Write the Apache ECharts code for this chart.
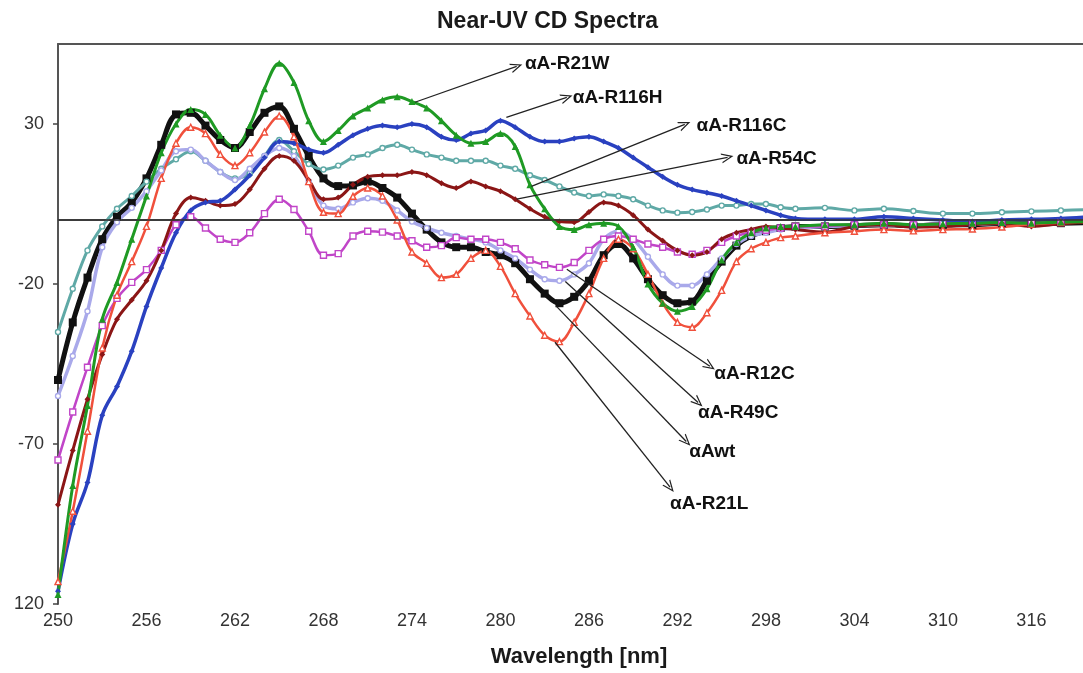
<!DOCTYPE html>
<html>
<head>
<meta charset="utf-8">
<title>Near-UV CD Spectra</title>
<script src="https://cdn.jsdelivr.net/npm/echarts@6/dist/echarts.min.js"></script>
<style>
  html, body { margin: 0; padding: 0; background: #fff; }
  #chart { width: 1083px; height: 673px; }
</style>
</head>
<body>
<div id="chart"></div>
<script>
// wavelength (nm): 1 nm steps to 300, then 2 nm steps
const wavelength = [250,251,252,253,254,255,256,257,258,259,260,261,262,263,264,265,266,267,268,269,
  270,271,272,273,274,275,276,277,278,279,280,281,282,283,284,285,286,287,288,289,
  290,291,292,293,294,295,296,297,298,299,300,302,304,306,308,310,312,314,316,318,320];

const awt = [-50,-32,-18,-6,1,5.5,13,23.5,33,33.5,29.5,25,22.5,27.5,33.5,35.5,28.5,20,13,10.6,
  10.8,12,10,7,2,-3,-7,-8.5,-8.5,-10,-11,-13.5,-18.5,-23,-26,-24,-19,-11,-7.5,-12,
  -18.5,-23.5,-26,-25.5,-19,-13,-8,-5,-3.5,-2.5,-2,-2,-1.8,-1.5,-1.8,-1.5,-1.5,-1,-1.2,-1,-0.8];

const r21w = [-117,-83,-58,-31,-19.5,-6,7.5,21,30,34.5,33,26.5,22.5,29.5,41,49,43,31,24.5,28,
  32.5,35,37.5,38.5,37,35,31,26.5,24,24.5,27,23,11,3.5,-2,-3,-1.5,-1,-2,-8.5,
  -20,-26,-28.5,-27,-21.5,-12.5,-7,-4,-2.5,-2,-2,-1.5,-1.5,-1,-1.5,-1.2,-1,-0.8,-1,-0.6,-0.5];

const r116h = [-116,-95,-82,-61,-52,-41,-27,-15,-4,3,5.5,6,9.5,14,19.5,24.5,24,22,21,23.5,
  26.5,28.5,29.5,29,30,29,26,25,27,28,31,29,26,24.5,24.5,25.5,26,24.5,22.5,19.5,
  16.5,13.5,11,9.5,8.5,7.5,6,4.5,3,1.5,0.5,0.2,0.2,1,0.5,0,-0.5,0,0.2,0.5,1];

const r116c = [-35,-21.5,-9.5,-2,3.5,7.5,12,16,19,21.5,18.5,15,13,14.5,20,25,21.5,17.5,15.8,17,
  19.5,20.5,22.5,23.5,22,20.5,19.5,18.5,18.5,18.5,17,16,14,12.5,10.5,8.6,7.5,8,7.5,6.5,
  4.5,3,2.3,2.5,3.3,4.5,4.5,5,5,4,3.5,3.8,3,3.5,2.8,2,2,2.4,2.7,3,3.3];

const r54c = [-89,-72,-56,-42,-31,-25,-19,-9.5,2,7,6,4.5,5,9.5,16,20,18.5,12.5,6.5,7,
  11,13.5,14,14,15,14,11.5,10,12,10.5,9,6.5,3.5,1,-0.5,-0.7,2.5,5.5,4.5,1.5,
  -3,-6.5,-9.5,-11,-10,-6,-4,-3,-2,-2.5,-3,-3.8,-2,-1.5,-2.2,-2,-1.5,-1,-2,-1.2,-0.7];

const r12c = [-75,-60,-46,-33,-24.5,-19.5,-15.5,-9.5,-1.5,1,-2.5,-6,-7,-4,2,6.5,3.3,-3.5,-11,-10.5,
  -5,-3.5,-3.8,-5,-6.5,-8.5,-8,-5.5,-6,-6,-7,-9,-12.5,-14,-14.8,-13.3,-9.5,-6,-5,-6,
  -7.5,-8.5,-10,-10.7,-9.5,-7,-5,-3.8,-3.2,-2.5,-2,-2,-1.5,-1.5,-1.5,-1,-1,-0.8,-1,-0.8,-0.5];

const r49c = [-55,-42.5,-28.5,-8.5,-0.7,3.8,9,15.5,21.5,22,18.5,15,12.5,16,20,22.5,20,12,4.5,3.5,
  5.5,6.8,6,3,-0.5,-2.5,-4,-5,-6,-7,-9.5,-12,-15.5,-18.5,-19,-17,-13.5,-6,-3.5,-6,
  -11.5,-17,-20.5,-20.5,-17,-12,-7.5,-5,-4,-3,-2.5,-2,-1.8,-1.5,-1.7,-1.3,-1.3,-1,-1.2,-0.8,-0.6];

const r21l = [-113,-91,-66,-40,-23.5,-13,-2,13,24,29,27,20.5,17,21,27.5,32.5,26,12,2.4,2,
  7.4,10,7.5,0,-10,-13.5,-18,-17,-12,-9.5,-14.5,-23,-30,-36,-38,-32,-23,-12,-6,-9,
  -17,-26,-32,-33.5,-29,-22,-13,-9,-7,-5.5,-5,-4,-3.5,-3,-3.4,-3,-2.8,-2.2,-1.3,-0.8,-0.4];

const xTicks = [250,256,262,268,274,280,286,292,298,304,310,316];
const yTicks = [-120,-70,-20,30];

// arrow annotations (data coordinates)
const annotNames = ['αA-R21W','αA-R116H','αA-R116C','αA-R54C','αA-R12C','αA-R49C','αAwt','αA-R21L'];
const annotTextX = [281.66,284.9,293.3,296.0,294.5,293.4,292.8,291.5];
const annotTextY = [48.7,38.3,29.3,19.0,-48.2,-60.1,-72.3,-88.8];
const arrowFromX = [274.2,280.4,282.1,281.1,284.5,284.4,283.8,283.7];
const arrowFromY = [36.8,32.1,10.5,6.5,-15.4,-19.2,-27.0,-38.2];
const arrowToX = [281.1,284.5,292.5,295.4,294.2,293.4,292.6,291.5];
const arrowToY = [48.0,38.3,29.9,19.6,-45.7,-57.0,-69.2,-83.5];

const FONT = "'Liberation Sans', Arial, sans-serif";
const chevron = 'path://M0,12 L6,0 L12,12 L10.4,12 L6,3.2 L1.6,12 Z';

function lineSeries(name, values, color, symbol, size, hollow, width) {
  return {
    name,
    type: 'line',
    data: wavelength.map((w, i) => [w, values[i]]),
    smooth: 0.35,
    symbol,
    symbolSize: size,
    showAllSymbol: true,
    color,
    lineStyle: { color, width },
    itemStyle: hollow
      ? { color: '#fff', borderColor: color, borderWidth: 1.4 }
      : { color },
    emphasis: { disabled: true }
  };
}

const series = [
  lineSeries('αAwt', awt, '#111111', 'rect', 8, false, 5),
  lineSeries('αA-R116C', r116c, '#5fa9a6', 'circle', 5, true, 3),
  lineSeries('αA-R49C', r49c, '#a9a9ea', 'circle', 5, true, 3.5),
  lineSeries('αA-R12C', r12c, '#c145c8', 'rect', 6, true, 2.5),
  lineSeries('αA-R54C', r54c, '#8b1616', 'diamond', 6, false, 3),
  lineSeries('αA-R116H', r116h, '#2a41c0', 'diamond', 6, false, 3.5),
  lineSeries('αA-R21L', r21l, '#f0503c', 'triangle', 6, true, 2.5),
  lineSeries('αA-R21W', r21w, '#1f9a24', 'triangle', 7, false, 3)
];

// zero line
series[0].markLine = {
  silent: true,
  symbol: ['none', 'none'],
  label: { show: false },
  lineStyle: { color: '#333', width: 1.5, type: 'solid' },
  data: [{ yAxis: 0 }]
};

series.push({
  name: 'labels',
  type: 'scatter',
  symbolSize: 0,
  silent: true,
  z: 5,
  itemStyle: { opacity: 1, color: '#111' },
  data: annotNames.map((n, i) => ({ name: n, value: [annotTextX[i], annotTextY[i]] })),
  label: {
    show: true,
    position: 'right',
    distance: 0,
    formatter: '{b}',
    fontFamily: FONT,
    fontWeight: 'bold',
    fontSize: 19,
    color: '#111'
  },
  markLine: {
    silent: true,
    symbol: ['none', chevron],
    symbolSize: [10, 12],
    label: { show: false },
    lineStyle: { color: '#222', width: 1.3, type: 'solid', opacity: 1 },
    data: annotNames.map((n, i) => [
      { coord: [arrowFromX[i], arrowFromY[i]] },
      { coord: [arrowToX[i], arrowToY[i]] }
    ])
  }
});

const chart = echarts.init(document.getElementById('chart'));
chart.setOption({
  animation: false,
  backgroundColor: '#fff',
  textStyle: { fontFamily: FONT },
  title: {
    text: 'Near-UV CD Spectra',
    left: 432,
    top: 5,
    textStyle: { fontFamily: FONT, fontSize: 23, fontWeight: 'bold', color: '#1a1a1a' }
  },
  grid: { left: 58, right: 0, top: 44, bottom: 69 },
  xAxis: [{
    type: 'value',
    min: 250,
    max: 319.5,
    name: 'Wavelength [nm]',
    nameLocation: 'middle',
    nameGap: 42,
    nameTextStyle: { fontFamily: FONT, fontSize: 22, fontWeight: 'bold', color: '#1a1a1a', padding: [0, 0, 0, 17] },
    axisLine: { show: true, lineStyle: { color: '#555', width: 2 } },
    axisTick: { show: false },
    axisLabel: { customValues: xTicks, fontSize: 18, color: '#333', margin: 8 },
    splitLine: { show: false }
  }, {
    type: 'value',
    position: 'top',
    min: 250,
    max: 319.5,
    axisLine: { show: true, lineStyle: { color: '#555', width: 2 } },
    axisTick: { show: false },
    axisLabel: { show: false },
    splitLine: { show: false }
  }],
  yAxis: {
    type: 'value',
    min: -120,
    max: 55,
    axisLine: { show: true, lineStyle: { color: '#555', width: 2 } },
    axisTick: { show: true, customValues: yTicks, length: 5, lineStyle: { color: '#444', width: 1.5 } },
    axisLabel: {
      customValues: yTicks,
      fontSize: 18,
      color: '#333',
      margin: 14,
      formatter: v => (v === -120 ? '120' : String(v))
    },
    splitLine: { show: false }
  },
  series
});
</script>
</body>
</html>
